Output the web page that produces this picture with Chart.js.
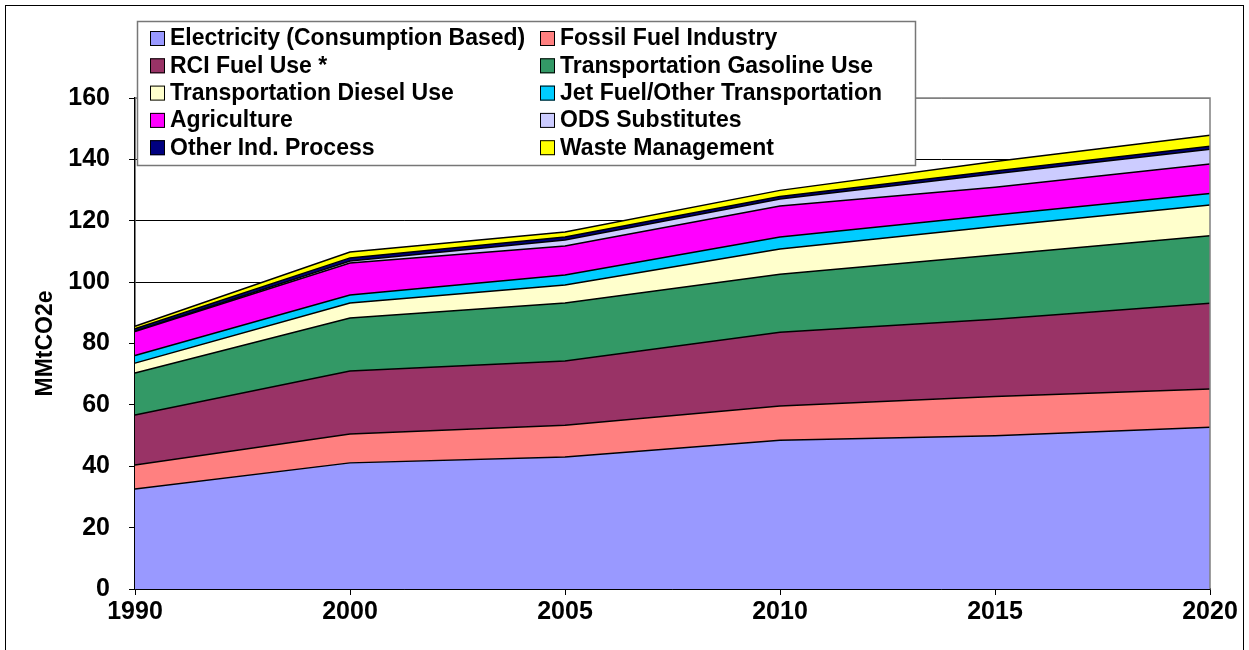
<!DOCTYPE html>
<html>
<head>
<meta charset="utf-8">
<script src="https://cdn.jsdelivr.net/npm/chart.js@4/dist/chart.umd.min.js"></script>
<style>
  body { margin: 0; background: #fff; }
</style>
</head>
<body>
<canvas id="emissionsChart" width="1249" height="650"></canvas>
<script>
// Data (MMtCO2e, per sector, stacked)
const years = ['1990', '2000', '2005', '2010', '2015', '2020'];
const electricity = [32.6, 41.1, 43.0, 48.5, 49.9, 52.7];
const fossilFuel = [7.8, 9.4, 10.4, 11.1, 12.8, 12.5];
const rciFuel = [16.3, 20.5, 20.9, 24.1, 25.2, 27.9];
const gasoline = [13.7, 17.3, 18.9, 18.9, 20.9, 22.0];
const diesel = [3.2, 4.9, 5.9, 8.2, 9.3, 10.0];
const jetFuel = [2.5, 2.6, 3.2, 3.9, 3.8, 3.8];
const agriculture = [7.8, 10.4, 9.5, 10.1, 9.0, 9.6];
const odsSubs = [0.1, 0.7, 1.9, 2.3, 4.4, 4.8];
const otherInd = [0.8, 1.0, 1.0, 0.8, 0.9, 1.0];
const waste = [0.8, 1.9, 1.6, 2.0, 3.1, 3.6];

const sectorNames = [
  'Electricity (Consumption Based)', 'Fossil Fuel Industry',
  'RCI Fuel Use *', 'Transportation Gasoline Use',
  'Transportation Diesel Use', 'Jet Fuel/Other Transportation',
  'Agriculture', 'ODS Substitutes',
  'Other Ind. Process', 'Waste Management'
];
const sectorColors = ['#9999FF', '#FF8080', '#993366', '#339966', '#FFFFCC',
  '#00CCFF', '#FF00FF', '#CCCCFF', '#000080', '#FFFF00'];
const sectorValues = [electricity, fossilFuel, rciFuel, gasoline, diesel,
  jetFuel, agriculture, odsSubs, otherInd, waste];

const FONT = '"Liberation Sans", Arial, sans-serif';

// two-column legend box drawn over the top of the plot, like the original
const boxLegend = {
  id: 'boxLegend',
  afterDraw(chart) {
    const ctx = chart.ctx;
    ctx.save();
    ctx.fillStyle = '#fff';
    ctx.fillRect(137, 21, 779, 145);
    ctx.strokeStyle = '#777';
    ctx.lineWidth = 1.5;
    ctx.strokeRect(137.5, 21.5, 778, 144);
    ctx.font = 'bold 23px ' + FONT;
    ctx.textBaseline = 'middle';
    chart.data.datasets.forEach((ds, i) => {
      const col = i % 2, row = Math.floor(i / 2);
      const y = 38 + row * 27.3;
      const sx = col ? 540 : 150;
      ctx.fillStyle = ds.backgroundColor;
      ctx.fillRect(sx, y - 7, 15, 15);
      ctx.strokeStyle = '#000';
      ctx.lineWidth = 1;
      ctx.strokeRect(sx + 0.5, y - 6.5, 14, 14);
      ctx.fillStyle = '#000';
      ctx.fillText(ds.label, sx + 20, y + 1);
    });
    ctx.restore();
  }
};

// outer frame and grey plot-area border
const frame = {
  id: 'frame',
  beforeDraw(chart) {
    const ctx = chart.ctx;
    ctx.save();
    ctx.strokeStyle = '#000';
    ctx.lineWidth = 1;
    ctx.strokeRect(5.5, 5.5, 1238, 660);
    ctx.restore();
  },
  afterDatasetsDraw(chart) {
    const {ctx, chartArea: a} = chart;
    ctx.save();
    ctx.strokeStyle = '#808080';
    ctx.lineWidth = 1.5;
    ctx.beginPath();
    ctx.moveTo(a.left, a.top);
    ctx.lineTo(a.right, a.top);
    ctx.lineTo(a.right, a.bottom);
    ctx.stroke();
    ctx.restore();
  }
};

const ctxArea = document.getElementById('emissionsChart').getContext('2d');
const emissionsChart = new Chart(ctxArea, {
  type: 'line',
  data: {
    labels: years,
    datasets: sectorNames.map((name, i) => ({
      label: name,
      data: sectorValues[i],
      backgroundColor: sectorColors[i],
      borderColor: '#000',
      borderWidth: 1.5,
      pointRadius: 0,
      tension: 0,
      fill: i === 0 ? 'origin' : '-1'
    }))
  },
  options: {
    responsive: false,
    animation: false,
    layout: { padding: { top: 98, right: 39, left: 0, bottom: 0 } },
    plugins: {
      legend: { display: false },
      tooltip: { enabled: false }
    },
    scales: {
      x: {
        offset: false,
        grid: { drawOnChartArea: false, drawTicks: true, tickLength: 6, color: '#000' },
        border: { color: '#000', width: 1.5 },
        ticks: { color: '#000', padding: 2, maxRotation: 0, font: { family: FONT, size: 25, weight: 'bold' } },
        afterFit(scale) { scale.height = 61; }
      },
      y: {
        stacked: true,
        min: 0,
        max: 160,
        grid: {
          color: ctx => ctx.tick && ctx.tick.value === 160 ? '#808080' : '#000',
          lineWidth: 1,
          tickLength: 6,
          tickColor: '#000'
        },
        border: { color: '#000', width: 1.5 },
        ticks: { stepSize: 20, color: '#000', padding: 19, font: { family: FONT, size: 25, weight: 'bold' } },
        title: {
          display: true,
          text: 'MMtCO2e',
          color: '#000',
          padding: { top: 32 },
          font: { family: FONT, size: 23, weight: 'bold' }
        },
        afterFit(scale) { scale.width = 135; }
      }
    }
  },
  plugins: [frame, boxLegend]
});
</script>
</body>
</html>
